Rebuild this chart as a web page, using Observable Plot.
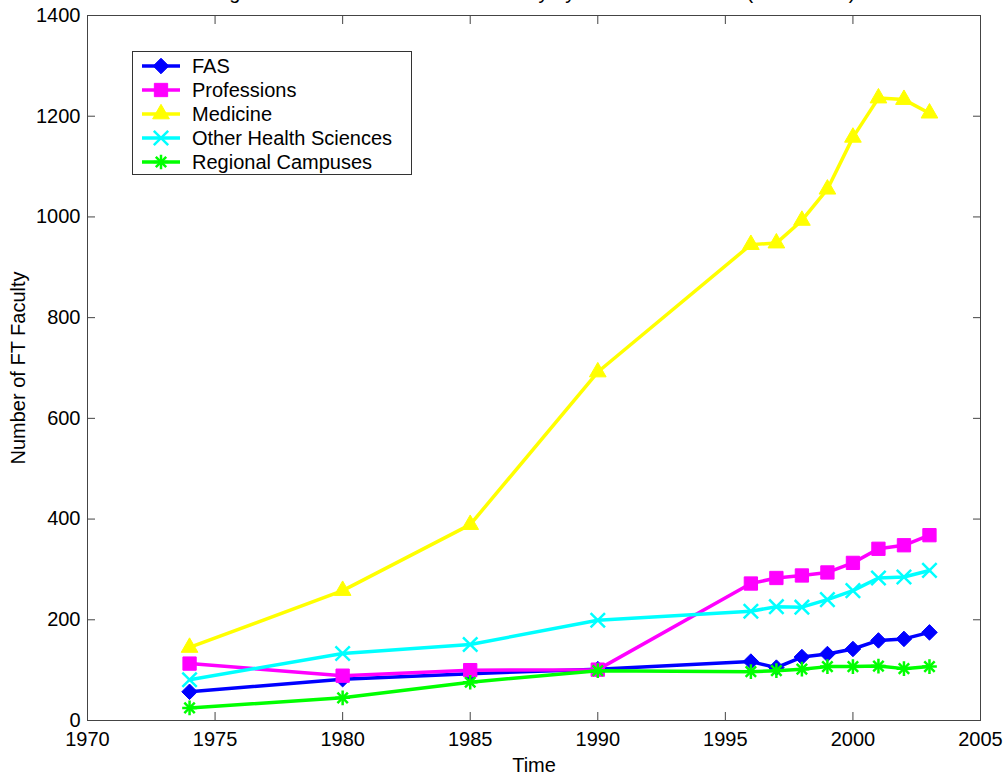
<!DOCTYPE html>
<html><head><meta charset="utf-8">
<script src="https://cdn.jsdelivr.net/npm/d3@7"></script>
<script src="https://cdn.jsdelivr.net/npm/@observablehq/plot@0.6"></script>
<style>
body{margin:0;background:#fff;}
#wrap{position:relative;width:1008px;height:780px;overflow:hidden;font-family:Arial,"Liberation Sans",Helvetica,sans-serif;}
#legend{position:absolute;left:132px;top:51px;width:280px;height:124px;border:1px solid #333;background:#fff;box-sizing:border-box;}
#legend .row{position:absolute;left:0;height:24px;display:flex;align-items:center;font-size:20px;color:#000;}
#legend svg{display:block;margin-left:9px;margin-right:12px;}
</style></head><body><div id="wrap"></div>
<script>
const years = [1974, 1980, 1985, 1990, 1996, 1997, 1998, 1999, 2000, 2001, 2002, 2003];
const fas = [57, 82, 93, 102, 117, 105, 126, 132, 142, 159, 162, 175];
const professions = [113, 89, 100, 101, 272, 283, 288, 294, 313, 341, 348, 368];
const medicine = [145, 258, 389, 692, 945, 948, 993, 1055, 1158, 1236, 1233, 1206];
const otherHealth = [81, 133, 151, 199, 217, 226, 225, 240, 258, 283, 285, 298];
const regional = [25, 45, 76, 99, 97, 99, 102, 107, 107, 108, 103, 107];

const seriesNames = ["FAS", "Professions", "Medicine", "Other Health Sciences", "Regional Campuses"];
const seriesValues = [fas, professions, medicine, otherHealth, regional];
const seriesColors = ["#0000ff", "#ff00ff", "#ffff00", "#00ffff", "#00ff00"];
const xTicks = [1970, 1975, 1980, 1985, 1990, 1995, 2000, 2005];
const yTicks = [0, 200, 400, 600, 800, 1000, 1200, 1400];
const titleText = "Figure 4: Number of Full-Time Faculty by School or Division (1974-2003)";
const xLabel = "Time";
const yLabel = "Number of FT Faculty";

// marker specs per series: list of [symbol, r, filled, strokeWidth]
const markerSpecs = [
  [["diamond2", 7.0, true, 1]],
  [["square", 7.5, true, 1]],
  [["triangle", 6.2, true, 1]],
  [["times", 6.6, false, 2.5]],
  [["plus", 4.8, false, 2.5], ["times", 4.8, false, 2.5]]
];

const rows = seriesNames.map((name, i) => years.map((yr, j) => ({series: name, year: yr, value: seriesValues[i][j]})));

const marks = [
  Plot.frame({stroke: "#444"}),
  Plot.axisX({anchor: "bottom", ticks: xTicks, tickSize: -8, tickFormat: () => "", stroke: "#444"}),
  Plot.axisX({anchor: "top", ticks: xTicks, tickSize: -8, tickFormat: () => "", stroke: "#444"}),
  Plot.axisY({anchor: "left", ticks: yTicks, tickSize: -8, tickFormat: () => "", stroke: "#444"}),
  Plot.axisY({anchor: "right", ticks: yTicks, tickSize: -8, tickFormat: () => "", stroke: "#444"}),
  Plot.axisX({anchor: "bottom", ticks: xTicks, tickSize: 0, tickPadding: 11, tickFormat: d => String(d), fill: "#000"}),
  Plot.axisY({anchor: "left", ticks: yTicks, tickSize: 0, tickPadding: 7, tickFormat: d => String(d), fill: "#000"}),
  Plot.text([xLabel], {text: d => d, frameAnchor: "bottom", dy: 45, lineAnchor: "middle", fill: "#000"}),
  Plot.text([yLabel], {text: d => d, frameAnchor: "left", dx: -69, rotate: -90, lineAnchor: "middle", textAnchor: "middle", fill: "#000"}),
  Plot.text([titleText], {text: d => d, frameAnchor: "top", dy: -23, lineAnchor: "middle", fill: "#000"})
];

rows.forEach((data, i) => {
  const c = seriesColors[i];
  marks.push(Plot.line(data, {x: "year", y: "value", stroke: c, strokeWidth: 3.5, strokeLinejoin: "round"}));
  markerSpecs[i].forEach(([sym, r, filled, sw]) => {
    marks.push(Plot.dot(data, {x: "year", y: "value", symbol: () => sym, r: r,
      fill: filled ? c : "none", stroke: c, strokeWidth: sw}));
  });
});

const chart = Plot.plot({
  width: 1008,
  height: 780,
  marginLeft: 87,
  marginRight: 28,
  marginTop: 15,
  marginBottom: 60,
  style: {fontFamily: "Arial, 'Liberation Sans', Helvetica, sans-serif", fontSize: "20px", background: "#fff", overflow: "visible"},
  x: {domain: [1970, 2005], label: null, axis: null},
  y: {domain: [0, 1400], label: null, axis: null},
  symbol: {type: "identity"},
  marks
});
const wrap = document.getElementById("wrap");
wrap.appendChild(chart);

// legend overlay
const legend = document.createElement("div");
legend.id = "legend";
const symMap = {diamond2: d3.symbolDiamond2, square: d3.symbolSquare, triangle: d3.symbolTriangle, times: d3.symbolTimes, plus: d3.symbolPlus};
seriesNames.forEach((name, i) => {
  const row = document.createElement("div");
  row.className = "row";
  row.style.top = (2 + i * 24) + "px";
  const svg = d3.create("svg").attr("width", 38).attr("height", 24);
  svg.append("line").attr("x1", 0).attr("x2", 38).attr("y1", 12).attr("y2", 12)
    .attr("stroke", seriesColors[i]).attr("stroke-width", 3.5);
  markerSpecs[i].forEach(([sym, r, filled, sw]) => {
    svg.append("path").attr("transform", "translate(19,12)")
      .attr("d", d3.symbol(symMap[sym], Math.PI * r * r)())
      .attr("fill", filled ? seriesColors[i] : "none")
      .attr("stroke", seriesColors[i]).attr("stroke-width", sw);
  });
  row.appendChild(svg.node());
  const span = document.createElement("span");
  span.textContent = name;
  row.appendChild(span);
  legend.appendChild(row);
});
wrap.appendChild(legend);
</script></body></html>
